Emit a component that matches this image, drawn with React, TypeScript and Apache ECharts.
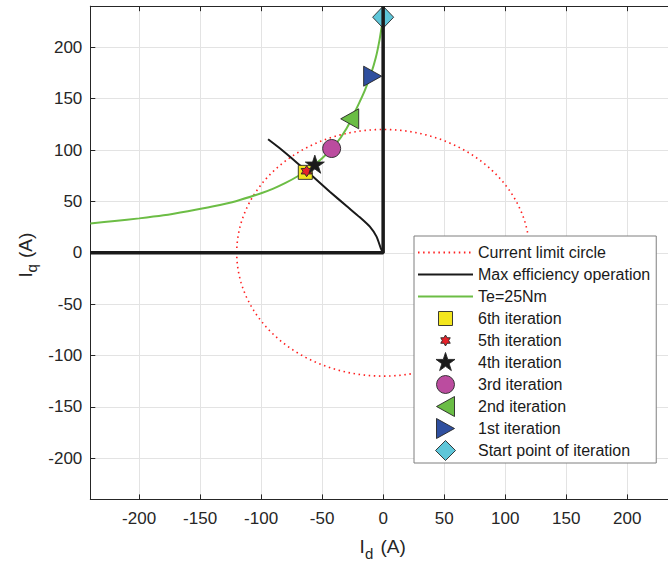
import React, { useEffect, useRef } from "react";
import * as echarts from "echarts";

// ---- data ----
const tickValues = [-200, -150, -100, -50, 0, 50, 100, 150, 200];
const axisMin = -240;
const axisMax = 240;

const currentLimitRadius = 120; // A

const mtpaId = [0, -1.9, -5.4, -10.9, -19.1, -30, -43.7, -57.4, -70, -84.7, -94.3];
const mtpaIq = [0, 4.4, 15.7, 25.4, 34.5, 45.5, 59.5, 74, 87, 101.7, 110.5];

const teId = [-240, -220, -200, -180, -160, -140, -120, -100, -90, -80, -70, -60, -50, -40, -30, -20, -15, -10, -6, -3, 0];
const teIq = [28.5, 31, 33.5, 36.5, 40.5, 45, 50.5, 58, 62.5, 68, 74.5, 82, 92, 104, 121, 145, 158, 174, 190, 207, 229];

// boundary (Id axis for Iq=0, Iq axis for Id=0)
const boundId = [-240, 0, 0];
const boundIq = [0, 0, 240];

const iterNames = ["6th iteration", "5th iteration", "4th iteration", "3rd iteration", "2nd iteration", "1st iteration", "Start point of iteration"];
const iterId = [-63.8, -62.7, -56, -42.2, -27.4, -8.6, 0];
const iterIq = [78.3, 79.4, 85.3, 101.5, 130.4, 171.9, 229.3];

const FONT = '"Liberation Sans", Arial, Helvetica, sans-serif';
const AXIS = "#262626";
const GRID = "#e3e3e3";

const STAR = "M0,0M100,100M50,0L61.23,34.55L97.55,34.55L68.17,55.9L79.39,90.45L50,69.1L20.61,90.45L31.83,55.9L2.45,34.55L38.77,34.55Z";
const HEX = "M50,0L64.43,25L93.3,25L78.87,50L93.3,75L64.43,75L50,100L35.57,75L6.7,75L21.13,50L6.7,25L35.57,25Z";
const TRI_R = "M0,0L90,50L0,100Z";
const TRI_L = "M90,0L0,50L90,100Z";

function scaled(d: string, s: number, off: number): string {
  return d.replace(/(-?\d+(?:\.\d+)?),(-?\d+(?:\.\d+)?)/g, (_m, a, b) =>
    `${(parseFloat(a) * s + off).toFixed(2)},${(parseFloat(b) * s + off).toFixed(2)}`
  );
}

const PAD = "M0,0M20,20";
const legendIcons: Record<string, string> = {
  "6th iteration": `path://${PAD}M3,3L17,3L17,17L3,17Z`,
  "5th iteration": `path://${PAD}${scaled(HEX, 0.11, 4.5)}`,
  "4th iteration": `path://${PAD}${scaled(STAR.replace("M0,0M100,100", ""), 0.2, 0)}`,
  "3rd iteration": `path://${PAD}M1,10A9,9,0,1,1,19,10A9,9,0,1,1,1,10Z`,
  "2nd iteration": `path://${PAD}M19,0L1,10L19,20Z`,
  "1st iteration": `path://${PAD}M1,0L19,10L1,20Z`,
  "Start point of iteration": `path://${PAD}M10,0L20,10L10,20L0,10Z`,
};

const markerStyles = [
  { symbol: "rect", size: 14, color: "#f3e61e" },
  { symbol: "path://" + HEX, size: 11, color: "#e62129" },
  { symbol: "path://" + STAR, size: 20, color: "#1a1a1a" },
  { symbol: "circle", size: 18, color: "#bb4c9f" },
  { symbol: "path://" + TRI_L, size: [18, 20], color: "#6abd45" },
  { symbol: "path://" + TRI_R, size: [18, 20], color: "#2f4f9f" },
  { symbol: "diamond", size: [21, 22], color: "#5ec6d9" },
];

function pairs(xs: number[], ys: number[]) {
  return xs.map((x, i) => [x, ys[i]]);
}

export default function App() {
  const ref = useRef<HTMLDivElement>(null);
  useEffect(() => {
    if (!ref.current) return;
    const chart = echarts.init(ref.current, undefined, { renderer: "svg" });

    const circle: number[][] = [];
    for (let deg = 0; deg <= 360; deg += 1) {
      const a = (deg * Math.PI) / 180;
      circle.push([currentLimitRadius * Math.cos(a), currentLimitRadius * Math.sin(a)]);
    }

    const baseAxis = {
      type: "value",
      min: axisMin,
      max: axisMax,
      axisLine: { onZero: false, lineStyle: { color: AXIS, width: 1 } },
      axisTick: { inside: true, length: 5, customValues: tickValues, lineStyle: { color: AXIS, width: 1 } },
    };

    const markerSeries = iterNames.map((name, i) => ({
      type: "scatter",
      name,
      data: [[iterId[i], iterIq[i]]],
      symbol: markerStyles[i].symbol,
      symbolSize: markerStyles[i].size,
      symbolKeepAspect: false,
      itemStyle: { color: markerStyles[i].color, borderColor: "#262626", borderWidth: 0.9, opacity: 1 },
      emphasis: { disabled: true },
      z: 3,
    }));

    const hiddenSymbol = { opacity: 0 };

    chart.setOption({
      animation: false,
      backgroundColor: "#ffffff",
      grid: { left: 90.3, top: 6.2, bottom: 65.6, right: 0, containLabel: false },
      xAxis: [
        {
          ...baseAxis,
          position: "bottom",
          axisLabel: { customValues: tickValues, fontSize: 17, color: AXIS, fontFamily: FONT, margin: 11 },
          splitLine: { show: true, lineStyle: { color: GRID, width: 1 } },
        },
        {
          ...baseAxis,
          position: "top",
          axisLabel: { show: false },
          splitLine: { show: false },
        },
      ],
      yAxis: [
        {
          ...baseAxis,
          position: "left",
          axisLabel: { customValues: tickValues, fontSize: 17, color: AXIS, fontFamily: FONT, margin: 8 },
          splitLine: { show: true, lineStyle: { color: GRID, width: 1 } },
        },
      ],
      legend: {
        orient: "vertical",
        left: 414,
        top: 236,
        padding: [5, 6, 1, 3],
        itemWidth: 55,
        itemHeight: 20,
        itemGap: -1,
        backgroundColor: "#ffffff",
        borderColor: "#7f7f7f",
        borderWidth: 1,
        borderRadius: 0,
        selectedMode: false,
        itemStyle: { borderWidth: 0.9 },
        textStyle: { fontSize: 16, lineHeight: 23, color: "#1a1a1a", fontFamily: FONT },
        data: [
          { name: "Current limit circle", itemStyle: hiddenSymbol },
          { name: "Max efficiency operation", itemStyle: hiddenSymbol },
          { name: "Te=25Nm", itemStyle: hiddenSymbol },
          ...iterNames.map((n) => ({ name: n, icon: legendIcons[n] })),
        ],
      },
      graphic: [
        { type: "text", x: 359.5, y: 546, style: { text: "I", fontSize: 19, fontFamily: FONT, fill: AXIS, align: "left", verticalAlign: "middle", textAlign: "left", textVerticalAlign: "middle" } },
        { type: "text", x: 365, y: 553.5, style: { text: "d", fontSize: 15, fontFamily: FONT, fill: AXIS, align: "left", verticalAlign: "middle", textAlign: "left", textVerticalAlign: "middle" } },
        { type: "text", x: 380.5, y: 546, style: { text: "(A)", fontSize: 19, fontFamily: FONT, fill: AXIS, align: "left", verticalAlign: "middle", textAlign: "left", textVerticalAlign: "middle" } },
        { type: "text", x: 25, y: 277.5, rotation: Math.PI / 2, style: { text: "I", fontSize: 19, fontFamily: FONT, fill: AXIS, align: "left", verticalAlign: "middle", textAlign: "left", textVerticalAlign: "middle" } },
        { type: "text", x: 31, y: 272.5, rotation: Math.PI / 2, style: { text: "q", fontSize: 15, fontFamily: FONT, fill: AXIS, align: "left", verticalAlign: "middle", textAlign: "left", textVerticalAlign: "middle" } },
        { type: "text", x: 25, y: 258, rotation: Math.PI / 2, style: { text: "(A)", fontSize: 19, fontFamily: FONT, fill: AXIS, align: "left", verticalAlign: "middle", textAlign: "left", textVerticalAlign: "middle" } },
      ],
      series: [
        {
          type: "line",
          name: "Current limit circle",
          data: circle,
          symbol: "none",
          showSymbol: false,
          lineStyle: { color: "#ff1f1f", width: 1.6, type: [1.5, 3.6] },
          itemStyle: { color: "#ff1f1f" },
          emphasis: { disabled: true },
          z: 2,
        },
        {
          type: "line",
          name: "Max efficiency operation",
          data: pairs(mtpaId, mtpaIq),
          symbol: "none",
          showSymbol: false,
          smooth: 0.2,
          lineStyle: { color: "#1a1a1a", width: 2 },
          itemStyle: { color: "#1a1a1a" },
          emphasis: { disabled: true },
          z: 2,
        },
        {
          type: "line",
          name: "Te=25Nm",
          data: pairs(teId, teIq),
          symbol: "none",
          showSymbol: false,
          smooth: 0.3,
          lineStyle: { color: "#6cbd45", width: 2 },
          itemStyle: { color: "#6cbd45" },
          emphasis: { disabled: true },
          z: 2,
        },
        ...markerSeries,
        {
          type: "line",
          name: "boundary",
          data: pairs(boundId, boundIq),
          symbol: "none",
          showSymbol: false,
          lineStyle: { color: "#1a1a1a", width: 3.5 },
          itemStyle: { color: "#1a1a1a" },
          emphasis: { disabled: true },
          z: 4,
        },
      ],
    });
    return () => chart.dispose();
  }, []);

  return (
    <div style={{ position: "absolute", left: 0, top: 0, width: 668, height: 565, overflow: "hidden", background: "#fff" }}>
      <div ref={ref} style={{ position: "absolute", left: 0, top: 0, width: 676, height: 565 }} />
    </div>
  );
}
